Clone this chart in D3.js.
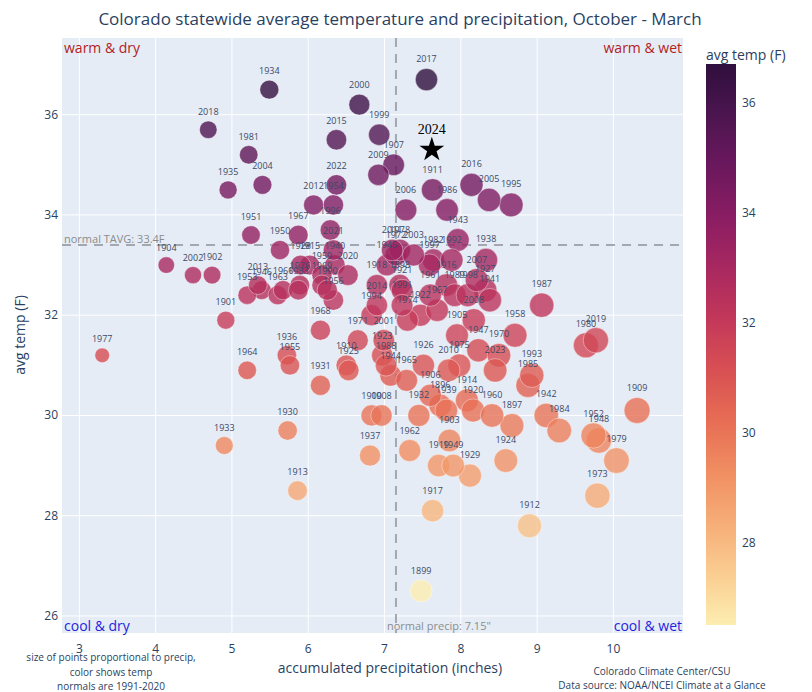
<!DOCTYPE html>
<meta charset="utf-8">
<script src="https://d3js.org/d3.v7.min.js"></script>
<style>
  body { margin: 0; background: #fff; }
  text { font-family: "Open Sans", sans-serif; }
</style>
<div id="my_dataviz"></div>
<script>
// water years Oct-Mar
var years = [1896,1897,1898,1899,1900,1901,1902,1903,1904,1905,1906,1907,1908,1909,1910,
  1911,1912,1913,1914,1915,1916,1917,1918,1919,1920,1921,1922,1923,1924,1925,1926,1927,1928,1929,1930,
  1931,1932,1933,1934,1935,1936,1937,1938,1939,1940,1941,1942,1943,1944,1945,1946,1947,1948,1949,1950,
  1951,1952,1953,1954,1955,1956,1957,1958,1959,1960,1961,1962,1963,1964,1965,1966,1967,1968,1969,1970,
  1971,1972,1973,1974,1975,1976,1977,1978,1979,1980,1981,1982,1983,1984,1985,1986,1987,1988,1989,1990,
  1991,1992,1993,1994,1995,1996,1997,1998,1999,2000,2001,2002,2003,2004,2005,2006,2007,2008,2009,2010,
  2011,2012,2013,2014,2015,2016,2017,2018,2019,2020,2021,2022,2023];
var precip = [7.73,8.67,7.20,7.48,6.83,4.92,4.74,7.85,4.14,7.95,7.60,7.12,6.96,10.31,6.50,
  7.63,8.90,5.86,8.08,6.02,7.81,7.63,6.90,7.71,8.16,7.23,7.47,6.97,8.59,6.53,7.51,8.32,5.90,8.12,5.73,
  6.16,7.45,4.90,5.49,4.95,5.72,6.81,8.33,7.81,6.35,8.38,9.12,7.96,7.08,7.03,5.39,8.23,9.81,7.90,5.63,
  5.25,9.74,5.20,6.33,5.76,6.33,7.69,8.71,6.18,8.41,7.60,7.33,5.60,5.20,7.29,5.67,5.87,6.16,6.18,8.50,
  6.65,7.15,9.79,7.30,7.98,5.89,3.30,7.20,10.04,9.64,5.22,7.64,5.87,9.29,8.88,7.82,9.06,7.02,7.92,6.25,
  7.23,7.88,8.93,6.83,8.66,6.29,7.59,8.09,6.93,6.67,6.99,4.49,7.38,5.40,8.37,7.28,8.21,8.17,6.92,7.84,
  7.10,6.07,5.34,6.90,6.37,8.14,7.55,4.69,9.77,6.52,6.33,6.37,8.45];
var temp = [30.2,29.8,32.6,26.5,30.0,31.9,32.8,29.5,33.0,31.6,30.4,35.0,30.0,30.1,31.0,
  34.5,27.8,28.5,30.3,33.0,32.6,28.1,32.6,29.0,30.1,32.5,32.0,31.2,29.1,30.9,31.0,32.5,33.0,28.8,29.7,
  30.6,30.0,29.4,36.5,34.5,31.2,29.2,33.1,30.1,33.0,32.3,30.0,33.5,30.8,33.0,32.5,31.3,29.5,29.0,33.3,
  33.6,29.6,32.4,34.2,31.0,32.3,32.1,31.6,32.8,30.0,32.4,29.3,32.4,30.9,30.7,32.5,33.6,31.7,32.6,31.2,
  31.5,33.2,28.4,31.9,31.0,32.6,31.2,33.3,29.1,31.4,35.2,33.1,32.5,29.7,30.6,34.1,32.2,31.0,32.4,32.5,
  32.2,33.1,30.8,32.0,34.2,33.7,33.0,32.4,35.6,36.2,31.5,32.8,33.2,34.6,34.3,34.1,32.7,31.9,34.8,30.9,
  33.3,34.2,32.6,32.2,35.5,34.6,36.7,35.7,31.5,32.8,33.3,34.6,30.9];

var starYear = "2024", starPrecip = 7.62, starTemp = 35.3;
var normalTemp = 33.4, normalPrecip = 7.15;
var xTicks = [3, 4, 5, 6, 7, 8, 9, 10];
var yTicks = [26, 28, 30, 32, 34, 36];
var colorTicks = [28, 30, 32, 34, 36];
// cmocean "matter"
var matter = ["rgb(253,237,176)","rgb(250,205,145)","rgb(246,173,119)","rgb(240,142,98)",
  "rgb(231,109,84)","rgb(216,80,83)","rgb(195,56,90)","rgb(168,40,96)","rgb(138,29,99)",
  "rgb(107,24,93)","rgb(76,21,80)","rgb(47,15,61)"];

var margin = {top: 38, left: 62},
    width = 621,
    height = 595;

var svg = d3.select("#my_dataviz")
  .append("svg")
    .attr("width", 812)
    .attr("height", 692);

var g = svg.append("g")
    .attr("transform", "translate(" + margin.left + "," + margin.top + ")");

var x = d3.scaleLinear().domain([2.773, 10.912]).range([0, width]);
var y = d3.scaleLinear().domain([25.66, 37.53]).range([height, 0]);

var tExtent = d3.extent(temp);
var colorDomain = matter.map(function(d, i) { return tExtent[0] + i * (tExtent[1] - tExtent[0]) / (matter.length - 1); });
var color = d3.scaleLinear().domain(colorDomain).range(matter).interpolate(d3.interpolateRgb);
var pMax = d3.max(precip);
var r = function(p) { return 13 * Math.sqrt(p / pMax); };

// background + grid
g.append("rect").attr("width", width).attr("height", height).attr("fill", "#e5ecf6");
g.selectAll(".xg").data(xTicks).enter().append("line")
    .attr("x1", function(d) { return x(d); }).attr("x2", function(d) { return x(d); })
    .attr("y1", 0).attr("y2", height)
    .attr("stroke", "#fff").attr("stroke-width", 1);
g.selectAll(".yg").data(yTicks).enter().append("line")
    .attr("y1", function(d) { return y(d); }).attr("y2", function(d) { return y(d); })
    .attr("x1", 0).attr("x2", width)
    .attr("stroke", "#fff").attr("stroke-width", 1);

// axes tick labels
g.selectAll(".xt").data(xTicks).enter().append("text")
    .attr("x", function(d) { return x(d); })
    .attr("y", height + 20)
    .attr("text-anchor", "middle")
    .attr("font-size", 12).attr("fill", "#2a3f5f")
    .text(function(d) { return d; });
g.selectAll(".yt").data(yTicks).enter().append("text")
    .attr("x", -4)
    .attr("y", function(d) { return y(d) + 4; })
    .attr("text-anchor", "end")
    .attr("font-size", 12).attr("fill", "#2a3f5f")
    .text(function(d) { return d; });

// normal lines
g.append("line")
    .attr("x1", 0).attr("x2", width)
    .attr("y1", y(normalTemp)).attr("y2", y(normalTemp))
    .attr("stroke", "#a3a8b0").attr("stroke-width", 2).attr("stroke-dasharray", "9,7");
g.append("line")
    .attr("x1", x(normalPrecip)).attr("x2", x(normalPrecip))
    .attr("y1", 0).attr("y2", height)
    .attr("stroke", "#a3a8b0").attr("stroke-width", 2).attr("stroke-dasharray", "9,7");

// points
var idx = d3.range(years.length);
g.append("g").selectAll("circle")
  .data(idx)
  .enter()
  .append("circle")
    .attr("cx", function(i) { return x(precip[i]); })
    .attr("cy", function(i) { return y(temp[i]); })
    .attr("r", function(i) { return r(precip[i]); })
    .attr("fill", function(i) { return color(temp[i]); })
    .attr("fill-opacity", 0.8)
    .attr("stroke", "#fff").attr("stroke-opacity", 0.5).attr("stroke-width", 0.8);

g.append("g").selectAll("text")
  .data(idx)
  .enter()
  .append("text")
    .attr("x", function(i) { return x(precip[i]); })
    .attr("y", function(i) { return y(temp[i]) - r(precip[i]) - 6; })
    .attr("text-anchor", "middle")
    .attr("font-size", 9).attr("fill", "#3c4a66")
    .text(function(i) { return years[i]; });

// this year
g.append("path")
    .attr("d", d3.symbol(d3.symbolStar, 190)())
    .attr("transform", "translate(" + x(starPrecip) + "," + y(starTemp) + ")")
    .attr("fill", "#000");
g.append("text")
    .attr("x", x(starPrecip))
    .attr("y", y(starTemp) - 16)
    .attr("text-anchor", "middle")
    .style("font-family", "'Liberation Serif', 'Times New Roman', serif")
    .attr("font-size", 14).attr("fill", "#000")
    .text(starYear);

// notes on the lines
g.append("text").attr("x", 2).attr("y", y(normalTemp) - 2)
    .attr("font-size", 11).attr("fill", "#8c8c8c")
    .text("normal TAVG: " + normalTemp + "F");
g.append("text").attr("x", x(normalPrecip) - 9).attr("y", height - 3)
    .attr("font-size", 11).attr("fill", "#8c8c8c")
    .text("normal precip: " + normalPrecip + "\"");

// quadrant labels
g.append("text").attr("x", 2).attr("y", 15).attr("font-size", 14).attr("fill", "#b22222").text("warm & dry");
g.append("text").attr("x", width - 1).attr("y", 15).attr("text-anchor", "end").attr("font-size", 14).attr("fill", "#b22222").text("warm & wet");
g.append("text").attr("x", 2).attr("y", height - 2).attr("font-size", 14).attr("fill", "#1f1fe0").text("cool & dry");
g.append("text").attr("x", width - 1).attr("y", height - 2).attr("text-anchor", "end").attr("font-size", 14).attr("fill", "#1f1fe0").text("cool & wet");

// title and axis titles
svg.append("text").attr("x", 400).attr("y", 25).attr("text-anchor", "middle")
    .attr("font-size", 17).attr("fill", "#2a3f5f")
    .text("Colorado statewide average temperature and precipitation, October - March");
svg.append("text").attr("x", 390).attr("y", 673).attr("text-anchor", "middle")
    .attr("font-size", 14).attr("fill", "#2a3f5f")
    .text("accumulated precipitation (inches)");
svg.append("text").attr("transform", "translate(25,335) rotate(-90)").attr("text-anchor", "middle")
    .attr("font-size", 14).attr("fill", "#2a3f5f")
    .text("avg temp (F)");

// footnotes
var leftNotes = ["size of points proportional to precip,", "color shows temp", "normals are 1991-2020"];
svg.selectAll(".ln").data(leftNotes).enter().append("text")
    .attr("x", 111).attr("y", function(d, i) { return 661 + i * 14.5; })
    .attr("text-anchor", "middle").attr("font-size", 10).attr("fill", "#2a3f5f")
    .text(function(d) { return d; });
var rightNotes = ["Colorado Climate Center/CSU", "Data source: NOAA/NCEI Climate at a Glance"];
svg.selectAll(".rn").data(rightNotes).enter().append("text")
    .attr("x", 662).attr("y", function(d, i) { return 675 + i * 14; })
    .attr("text-anchor", "middle").attr("font-size", 10).attr("fill", "#2a3f5f")
    .text(function(d) { return d; });

// colorbar
var cbY = d3.scaleLinear().domain(tExtent).range([625, 64]);
var grad = svg.append("defs").append("linearGradient")
    .attr("id", "cb").attr("x1", 0).attr("y1", 1).attr("x2", 0).attr("y2", 0);
grad.selectAll("stop").data(matter).enter().append("stop")
    .attr("offset", function(d, i) { return i / (matter.length - 1); })
    .attr("stop-color", function(d) { return d; });
svg.append("rect").attr("x", 706).attr("y", 64).attr("width", 30).attr("height", 561)
    .attr("fill", "url(#cb)");
svg.selectAll(".ct").data(colorTicks).enter().append("text")
    .attr("x", 742).attr("y", function(d) { return cbY(d) + 4; })
    .attr("font-size", 12).attr("fill", "#2a3f5f")
    .text(function(d) { return d; });
svg.append("text").attr("x", 706).attr("y", 60)
    .attr("font-size", 14).attr("fill", "#2a3f5f")
    .text("avg temp (F)");
</script>
